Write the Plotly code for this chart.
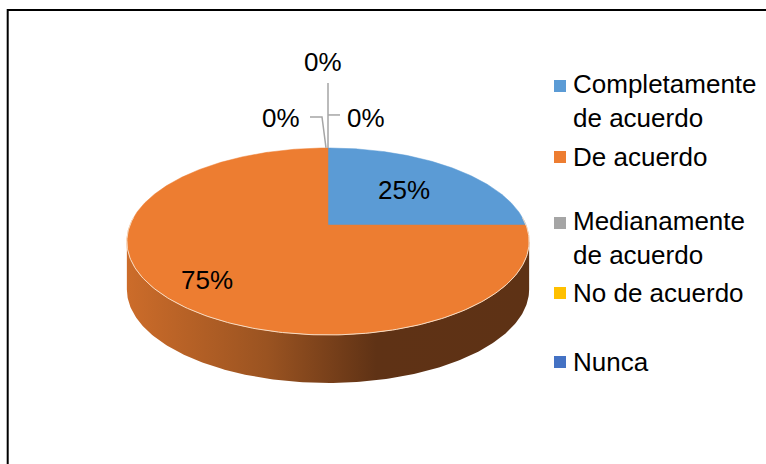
import numpy as np
import plotly.graph_objects as go

# ---- data ----
categories = ["Completamente<br>de acuerdo", "De acuerdo", "Medianamente<br>de acuerdo",
              "No de acuerdo", "Nunca"]
values = [25, 75, 0, 0, 0]
colors = ["#5b9bd5", "#ed7d31", "#a5a5a5", "#ffc000", "#4472c4"]
legend_y = [86, 157, 223, 293, 362]

W, H = 766, 464
FONT = "Liberation Sans, Arial, sans-serif"

# pseudo-3D projection of a tilted disc
CX, CY, R, K, E, DEPTH = 328, 225, 198, 90.6, 0.176, 48


def proj(alpha_deg, f=1.0):
    a = np.radians(alpha_deg)
    X, Z = f * np.sin(a), f * np.cos(a)
    w = 1 + E * Z
    return CX + R * X / w, CY - K * Z / w


fig = go.Figure()

# side wall (front visible part)
a0 = np.degrees(np.arccos(-E))
angs = np.linspace(a0, 360 - a0, 200)
tx, ty = proj(angs)
sx = np.concatenate([tx, tx[::-1]])
sy = np.concatenate([ty, ty[::-1] + DEPTH])
fig.add_trace(go.Scatter(x=sx, y=sy, mode="lines", line=dict(width=0), fill="toself",
                         fillcolor="#8a4a1e",
                         fillgradient=dict(type="horizontal",
                                           colorscale=[[0, "#cc6c2a"], [0.35, "#9a5321"],
                                                       [0.62, "#5f3215"], [1, "#5e3215"]]),
                         hoverinfo="skip", showlegend=False))

# top face slices
total = sum(values)
start = 0.0
label_frac = [0.58, 0.78]
slice_ranges = []
for i, v in enumerate(values):
    span = 360.0 * v / total
    slice_ranges.append((start, start + span))
    if v > 0:
        a = np.linspace(start, start + span, max(3, int(span * 2)))
        px, py = proj(a)
        xs = np.concatenate([[CX], px, [CX]])
        ys = np.concatenate([[CY], py, [CY]])
        fig.add_trace(go.Scatter(x=xs, y=ys, mode="lines", fill="toself",
                                 fillcolor=colors[i], line=dict(color=colors[i], width=0.5),
                                 hoverinfo="skip", showlegend=False))
    start += span

# light rim highlight on front edge
hx, hy = proj(np.linspace(a0 - 15, 360 - a0 + 15, 200))
fig.add_trace(go.Scatter(x=hx, y=hy, mode="lines", line=dict(color="#f6dcc4", width=1),
                         hoverinfo="skip", showlegend=False))

# data labels
annotations = []
zero_offsets = [(-5, -86), (-47, -30), (38, -30)]
zero_lines = [[(0, -65), (0, 0)], [(-18, -31), (-6, -31), (-2, 0)], [(12, -33), (0, -33)]]
zi = 0
for i, v in enumerate(values):
    pct = f"{round(100 * v / total)}%"
    s, e = slice_ranges[i]
    if v > 0:
        lx, ly = proj((s + e) / 2, label_frac[i])
    else:
        rx, ry = proj(s)
        ox, oy = zero_offsets[zi % 3]
        lx, ly = rx + ox, ry + oy
        pts = zero_lines[zi % 3]
        fig.add_trace(go.Scatter(x=[rx + p[0] for p in pts], y=[ry + p[1] for p in pts],
                                 mode="lines", line=dict(color="#a5a5a5", width=1.5),
                                 hoverinfo="skip", showlegend=False))
        zi += 1
    annotations.append(dict(x=lx, y=ly, text=pct, showarrow=False, xanchor="center",
                            yanchor="middle", font=dict(family=FONT, size=26, color="#000000")))

# legend
fig.add_trace(go.Scatter(x=[560] * len(categories), y=legend_y, mode="markers",
                         marker=dict(symbol="square", size=12, color=colors),
                         hoverinfo="skip", showlegend=False))
for c, y in zip(categories, legend_y):
    n = c.count("<br>")
    annotations.append(dict(x=571, y=y + 15 * n, text=c, showarrow=False, xanchor="left",
                            yanchor="middle", align="left",
                            font=dict(family=FONT, size=26, color="#000000")))

fig.update_layout(
    width=W, height=H, autosize=False,
    margin=dict(l=0, r=0, t=0, b=0),
    paper_bgcolor="white", plot_bgcolor="white",
    xaxis=dict(range=[0, W], visible=False, fixedrange=True),
    yaxis=dict(range=[H, 0], visible=False, fixedrange=True),
    annotations=annotations,
    shapes=[dict(type="rect", xref="x", yref="y", x0=7.7, y0=10, x1=800, y1=500,
                 line=dict(color="#000000", width=2), fillcolor="rgba(0,0,0,0)", layer="below")],
    showlegend=False,
)

fig.write_html("out.html", config={"displayModeBar": False},
               post_script="document.body.style.margin='0';document.body.style.overflow='hidden';")
